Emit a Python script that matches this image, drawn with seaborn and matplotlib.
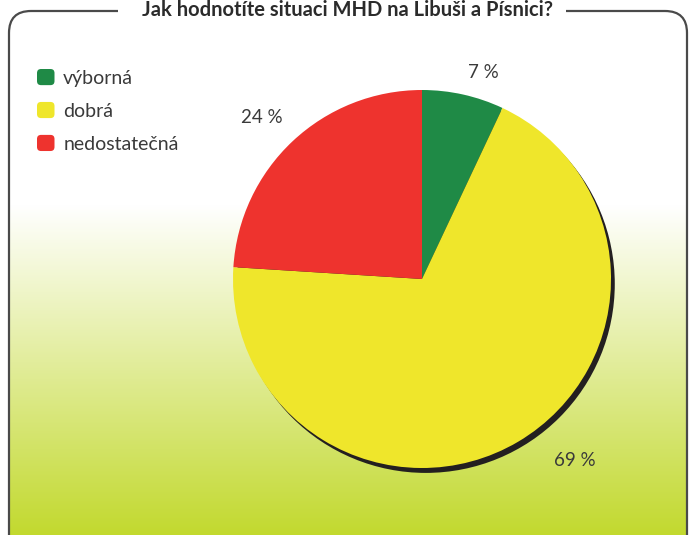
import numpy as np
import matplotlib
matplotlib.use("Agg")
import matplotlib.pyplot as plt
import seaborn as sns
from matplotlib.patches import FancyBboxPatch, Circle, Rectangle, Wedge
from matplotlib.legend_handler import HandlerPatch
from matplotlib.colors import to_rgb

# ---- data ----
title = "Jak hodnotíte situaci MHD na Libuši a Písnici?"
categories = ["výborná", "dobrá", "nedostatečná"]
values = [7, 69, 24]
colors = ["#1f8a46", "#efe62b", "#ee332e"]

sns.set_theme(style="white")
plt.rcParams["font.family"] = ["Lato", "DejaVu Sans"]

W, H = 689, 535
fig = plt.figure(figsize=(W / 100, H / 100), dpi=100)

# ---- background panel with gradient ----
bg = fig.add_axes([0, 0, 1, 1])
bg.set_xlim(0, W)
bg.set_ylim(H, 0)
bg.axis("off")

rows = np.arange(H)
frac = np.clip((rows - 205) / (H - 205), 0, 1)[:, None]
top_c = np.array(to_rgb("#ffffff"))
bot_c = np.array(to_rgb("#c2d92e"))
grad = (1 - frac) * top_c + frac * bot_c
img = np.repeat(grad[:, None, :], 2, axis=1)

box = FancyBboxPatch((9, 11), 678, 560, boxstyle="round,pad=0,rounding_size=22",
                     facecolor="none", edgecolor="#4a4a4a", linewidth=1.6,
                     transform=bg.transData, zorder=3)
im = bg.imshow(img, extent=(0, W, H, 0), aspect="auto", zorder=1, interpolation="bilinear")
clip = FancyBboxPatch((9, 11), 678, 560, boxstyle="round,pad=0,rounding_size=22",
                      transform=bg.transData, facecolor="none", edgecolor="none")
bg.add_patch(clip)
im.set_clip_path(clip)
bg.add_patch(box)
bg.add_patch(Rectangle((118, 0), 448, 22, facecolor="white", edgecolor="none", zorder=4))
bg.text(348, 15.5, title, ha="center", va="baseline", fontsize=14.5, fontweight="bold",
        color="#2b2b2b", zorder=5)

# ---- pie ----
cx, cy, r = 422, 279, 189
ax = fig.add_axes([(cx - r) / W, 1 - (cy + r) / H, 2 * r / W, 2 * r / H])
ax.set_xlim(-1, 1)
ax.set_ylim(-1, 1)
ax.set_aspect("equal")
ax.axis("off")
ax.add_patch(Circle((0.02, -0.026), 1.0, facecolor="#231f20", edgecolor="none", zorder=0,
                    clip_on=False))
wedges, _ = ax.pie(values, colors=colors, startangle=90, counterclock=False,
                   radius=1, wedgeprops=dict(linewidth=0, clip_on=False), frame=False)
for w in wedges:
    w.set_zorder(2)
ax.set_xlim(-1, 1)
ax.set_ylim(-1, 1)

label_pos = [(0.323, 1.095), (0.810, -0.958), (-0.847, 0.852)]
for v, (lx, ly) in zip(values, label_pos):
    ax.text(lx, ly, f"{v} %", ha="center", va="center", fontsize=13.5, color="#3a3a3a",
            clip_on=False)


# ---- legend ----
class RoundHandler(HandlerPatch):
    def create_artists(self, legend, orig_handle, xdescent, ydescent, width, height,
                       fontsize, trans):
        p = FancyBboxPatch((-xdescent, -ydescent), width, height,
                           boxstyle=f"round,pad=0,rounding_size={0.25 * height}",
                           facecolor=orig_handle.get_facecolor(), edgecolor="none",
                           transform=trans)
        return [p]


fig.legend(wedges, categories, loc="upper left", bbox_to_anchor=(37 / W, 1 - 69 / H),
           frameon=False, fontsize=14, handlelength=0.9, handleheight=0.9,
           handletextpad=0.45, labelspacing=0.78, borderpad=0, borderaxespad=0,
           handler_map={Wedge: RoundHandler()}, labelcolor="#3a3a3a")

fig.savefig("out.png", dpi=100)
